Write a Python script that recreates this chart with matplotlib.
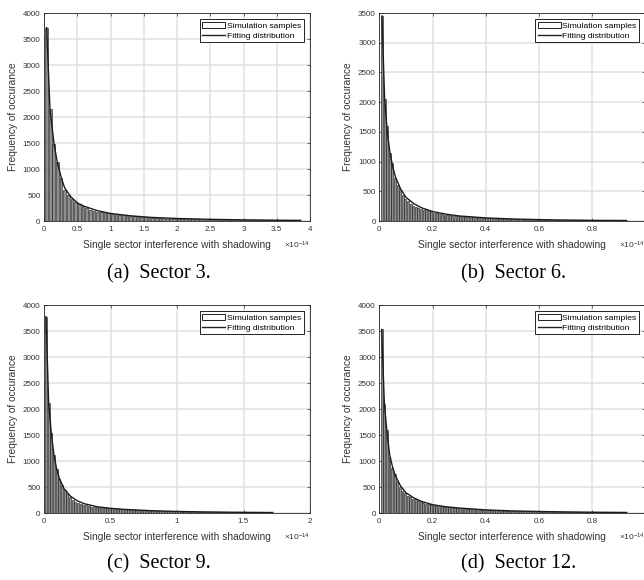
import numpy as np
import matplotlib
matplotlib.use("Agg")
import matplotlib.pyplot as plt
from matplotlib.patches import Patch
from matplotlib.lines import Line2D
from matplotlib.ticker import FuncFormatter, MultipleLocator

plt.rcParams['font.family'] = ['Liberation Sans', 'DejaVu Sans']
plt.rcParams['mathtext.fontset'] = 'custom'
plt.rcParams['mathtext.rm'] = 'Liberation Sans'
plt.rcParams['mathtext.it'] = 'Liberation Sans'

# ---------------- data (x in units of 1e-14) ----------------
captions = ["(a)  Sector 3.", "(b)  Sector 6.", "(c)  Sector 9.", "(d)  Sector 12."]

# histogram bins: first edge, bin width
bins_a = (0.01, 0.055)
bins_b = (0.005, 0.0098)
bins_c = (0.005, 0.02)
bins_d = (0.004, 0.0098)

counts_a = [3720, 2150, 1490, 1130, 820, 600, 500, 420, 360, 320,
            290, 250, 220, 200, 180, 170, 160, 145, 135, 125,
            118, 110, 100, 95, 88, 82, 76, 70, 66, 62,
            58, 55, 52, 48, 46, 43, 41, 39, 37, 35,
            33, 31, 30, 28, 27, 26, 25, 24, 23, 22,
            21, 20, 19, 18, 17, 16, 15, 15, 14, 14,
            13, 12, 12, 11, 11, 10, 10, 9, 9, 8]

counts_b = [3450, 2050, 1600, 1150, 980, 720, 600, 520, 430, 370,
            330, 290, 260, 240, 215, 195, 180, 200, 165, 150,
            140, 130, 122, 115, 108, 100, 95, 88, 84, 80,
            77, 74, 70, 67, 63, 60, 57, 55, 52, 50,
            48, 46, 44, 42, 40, 38, 36, 35, 33, 31,
            30, 29, 28, 27, 26, 25, 24, 23, 22, 21,
            20, 19, 19, 18, 17, 17, 16, 15, 15, 14,
            14, 13, 13, 12, 12, 11, 11, 10, 10, 10,
            9, 9, 9, 8, 8, 8, 7, 7, 7, 6,
            6, 6, 5, 5]

counts_c = [3775, 2110, 1530, 1110, 850, 660, 530, 440, 360, 300,
            250, 210, 185, 170, 155, 145, 135, 125, 115, 110,
            105, 100, 98, 95, 92, 90, 86, 82, 78, 75,
            72, 68, 65, 62, 59, 56, 53, 50, 48, 46,
            44, 42, 40, 38, 36, 35, 33, 32, 31, 30,
            29, 27, 26, 25, 24, 23, 22, 21, 21, 20,
            19, 18, 18, 17, 16, 16, 15, 15, 14, 14,
            13, 13, 12, 12, 11, 11, 10, 10, 10, 9,
            9, 9, 8, 8, 8, 7]

counts_d = [3530, 2100, 1600, 1080, 860, 750, 600, 500, 430, 380,
            330, 300, 270, 260, 230, 210, 190, 180, 170, 160,
            150, 142, 135, 128, 122, 116, 110, 105, 100, 95,
            90, 86, 82, 78, 75, 72, 69, 66, 63, 60,
            57, 55, 53, 51, 49, 47, 45, 43, 41, 40,
            38, 37, 36, 35, 34, 33, 32, 31, 30, 30,
            29, 28, 27, 26, 25, 24, 23, 22, 22, 21,
            20, 19, 18, 18, 17, 16, 15, 15, 14, 14,
            13, 13, 12, 12, 11, 11, 10, 10, 10, 9,
            9, 8, 8, 7]

fit_x_a = [0.04, 0.09, 0.15, 0.2, 0.26, 0.31, 0.4, 0.5, 0.6, 0.8, 1.0, 1.3, 1.6, 2.0, 2.5, 3.0, 3.5, 3.86]
fit_y_a = [3720, 2150, 1490, 1130, 830, 640, 470, 350, 285, 200, 145, 100, 70, 48, 32, 22, 15, 12]

fit_x_b = [0.01, 0.02, 0.03, 0.04, 0.05, 0.06, 0.08, 0.1, 0.13, 0.16, 0.2, 0.25, 0.3, 0.4, 0.5, 0.6, 0.7, 0.8, 0.93]
fit_y_b = [3450, 2050, 1500, 1150, 920, 750, 540, 400, 290, 220, 160, 115, 85, 52, 34, 23, 16, 11, 8]

fit_x_c = [0.015, 0.035, 0.055, 0.075, 0.095, 0.115, 0.15, 0.2, 0.25, 0.3, 0.4, 0.5, 0.6, 0.8, 1.0, 1.2, 1.4, 1.6, 1.72]
fit_y_c = [3775, 2110, 1530, 1110, 850, 670, 470, 320, 235, 180, 120, 90, 70, 45, 30, 21, 15, 11, 9]

fit_x_d = [0.009, 0.019, 0.029, 0.039, 0.05, 0.06, 0.08, 0.1, 0.13, 0.16, 0.2, 0.25, 0.3, 0.4, 0.5, 0.6, 0.7, 0.8, 0.93]
fit_y_d = [3530, 2100, 1550, 1120, 880, 720, 520, 390, 290, 220, 160, 120, 95, 60, 40, 29, 21, 15, 10]

xlims = [(0, 4), (0, 1), (0, 2), (0, 1)]
xsteps = [0.5, 0.2, 0.5, 0.2]
ylims = [(0, 4000), (0, 3500), (0, 4000), (0, 4000)]

xlabel = "Single sector interference with shadowing"
ylabel = "Frequency of occurance"
legend_labels = ["Simulation samples", "Fitting distribution"]

# ---------------- figure ----------------
W, H = 644, 580
fig = plt.figure(figsize=(W / 100, H / 100), dpi=100)

# axes boxes in pixels: left, top, width, height
boxes = [(44, 13, 266, 208), (379.3, 13, 266, 208),
         (44, 305, 266, 208), (379.3, 305, 266, 208)]
cap_pos = [(159, 274), (514, 274), (159, 564), (519, 564)]

panels = [
    (bins_a, counts_a, fit_x_a, fit_y_a),
    (bins_b, counts_b, fit_x_b, fit_y_b),
    (bins_c, counts_c, fit_x_c, fit_y_c),
    (bins_d, counts_d, fit_x_d, fit_y_d),
]

fmt = FuncFormatter(lambda v, p: "%g" % round(v, 6))
txt = '#333333'

for k, ((b0, bw), counts, fx, fy) in enumerate(panels):
    l, t, w, h = boxes[k]
    ax = fig.add_axes([l / W, 1 - (t + h) / H, w / W, h / H])
    counts = np.asarray(counts, dtype=float)
    centers = b0 + bw * (np.arange(len(counts)) + 0.5)
    ax.bar(centers, counts, width=bw * 0.75, color='#8f8f8f',
           edgecolor='#111111', linewidth=0.4, zorder=2)
    ax.plot(fx, fy, color='#1a1a1a', lw=1.0, zorder=3)

    ax.set_xlim(*xlims[k])
    ax.set_ylim(*ylims[k])
    ax.xaxis.set_major_locator(MultipleLocator(xsteps[k]))
    ax.yaxis.set_major_locator(MultipleLocator(500))
    ax.xaxis.set_major_formatter(fmt)
    ax.yaxis.set_major_formatter(fmt)
    ax.grid(True, color='#e0e0e0', lw=1.1, zorder=0)
    ax.set_axisbelow(True)
    ax.tick_params(direction='in', top=True, right=True, length=2.5,
                   width=0.5, labelsize=5.8, colors=txt)
    ax.tick_params(axis='x', pad=3.8)
    ax.tick_params(axis='y', pad=2.5)
    for s in ax.spines.values():
        s.set_linewidth(0.6)
        s.set_color('#262626')
    ax.set_xlabel(xlabel, fontsize=7.3, color=txt, labelpad=4.5)
    ax.set_ylabel(ylabel, fontsize=7.3, color=txt, labelpad=3.5)

    ax.text(1.0, -0.118, r'$\times\mathregular{10^{-14}}$', transform=ax.transAxes,
            ha='right', va='center', fontsize=6.0, color=txt)

    handles = [Patch(facecolor='white', edgecolor='black', linewidth=0.6),
               Line2D([0], [0], color='#222222', lw=1.0)]
    leg = ax.legend(handles, legend_labels, loc='upper right', fontsize=6.1,
                    frameon=True, fancybox=False, framealpha=1,
                    borderpad=0.3, handlelength=2.7, handletextpad=0.2,
                    labelspacing=0.25, borderaxespad=0.75)
    leg.get_frame().set_edgecolor('black')
    leg.get_frame().set_linewidth(0.6)

    cx, cy = cap_pos[k]
    fig.text(cx / W, 1 - cy / H, captions[k], ha='center', va='center',
             fontsize=14.5, family=['Liberation Serif', 'DejaVu Serif'])

fig.savefig("out.png", dpi=100)
